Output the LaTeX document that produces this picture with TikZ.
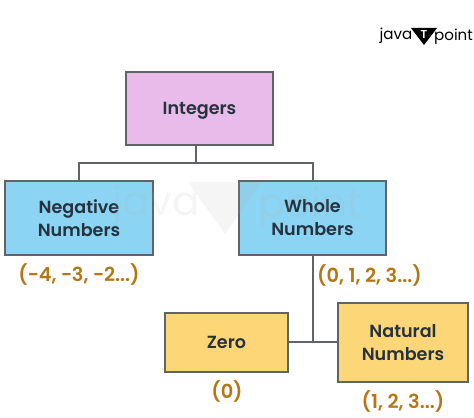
\documentclass[tikz,border=0pt]{standalone}
\usepackage{fontspec}
\setmainfont{Poppins}[BoldFont={Poppins SemiBold}]
\usetikzlibrary{positioning}
\definecolor{colTop}{RGB}{232,187,234}
\definecolor{colBlue}{RGB}{140,212,243}
\definecolor{colYellow}{RGB}{253,214,120}
\definecolor{colEdge}{RGB}{96,100,104}
\definecolor{colText}{RGB}{38,50,62}
\definecolor{colRange}{RGB}{181,118,20}
\definecolor{colMark}{RGB}{175,175,175}
\begin{document}
\begin{tikzpicture}[
    x=0.2mm, y=-0.2mm,
    box/.style={draw=colEdge, line width=0.45mm, align=center, text=colText, inner sep=0pt, font=\fontsize{10pt}{13pt}\selectfont\bfseries},
    rangetext/.style={text=colRange, inner sep=0pt, font=\fontsize{11pt}{12pt}\selectfont\bfseries},
    logotext/.style={inner sep=0pt, text=black, font=\fontsize{8.6pt}{9pt}\selectfont},
    marktext/.style={text=colMark, text opacity=0.12, inner sep=0pt, font=\fontsize{23pt}{24pt}\selectfont},
    link/.style={colEdge, line width=0.4mm}
]
    \useasboundingbox (0,0) rectangle (474,418);

    % logo
    \node[logotext] (logoLeft) at (396,36) {java};
    \node[logotext] (logoRight) at (453.5,37) {point};
    \fill[black] (411,28) -- (437,28) -- (424,45) -- cycle;
    \node[inner sep=0pt, font=\fontsize{6.5pt}{8pt}\selectfont\bfseries, text=white] (logoT) at (424,35) {T};

    % boxes
    \node[box, fill=colTop, minimum width=29.4mm, minimum height=14.6mm, text depth=0pt] (Integers) at (199.5,108.5) {Integers};
    \node[box, fill=colBlue, minimum width=29.6mm, minimum height=14.8mm] (Negative) at (79,218) {Negative\\Numbers};
    \node[box, fill=colBlue, minimum width=29.4mm, minimum height=14.8mm] (Whole) at (312.5,218) {Whole\\Numbers};
    \node[box, fill=colYellow, minimum width=24.6mm, minimum height=11.8mm] (Zero) at (226.5,342.5) {Zero};
    \node[box, fill=colYellow, minimum width=26mm, minimum height=15.8mm] (Natural) at (403,342.5) {Natural\\Numbers};

    % ranges under the boxes
    \node[rangetext] (rangeNegative) at (79,274) {(−4, −3, −2...)};
    \node[rangetext] (rangeWhole) at (369.5,275) {(0, 1, 2, 3...)};
    \node[rangetext] (rangeZero) at (227,391) {(0)};
    \node[rangetext] (rangeNatural) at (403,401) {(1, 2, 3...)};

    % connectors
    \coordinate (split) at (196,163);
    \draw[link] (Integers.south -| split) -- (split);
    \draw[link] (Negative.north) |- (split) -| (Whole.north);
    \draw[link] (Zero.east) -- (Natural.west);
    \draw[link] (Whole.south) -- (Whole.south |- Zero.east);

    % faint mark over the boxes
    \node[marktext] (markLeft) at (156,205) {java};
    \node[marktext] (markRight) at (310,207) {point};
    \fill[colMark, opacity=0.12] (188,182) -- (262,182) -- (225,234) -- cycle;
\end{tikzpicture}
\end{document}
